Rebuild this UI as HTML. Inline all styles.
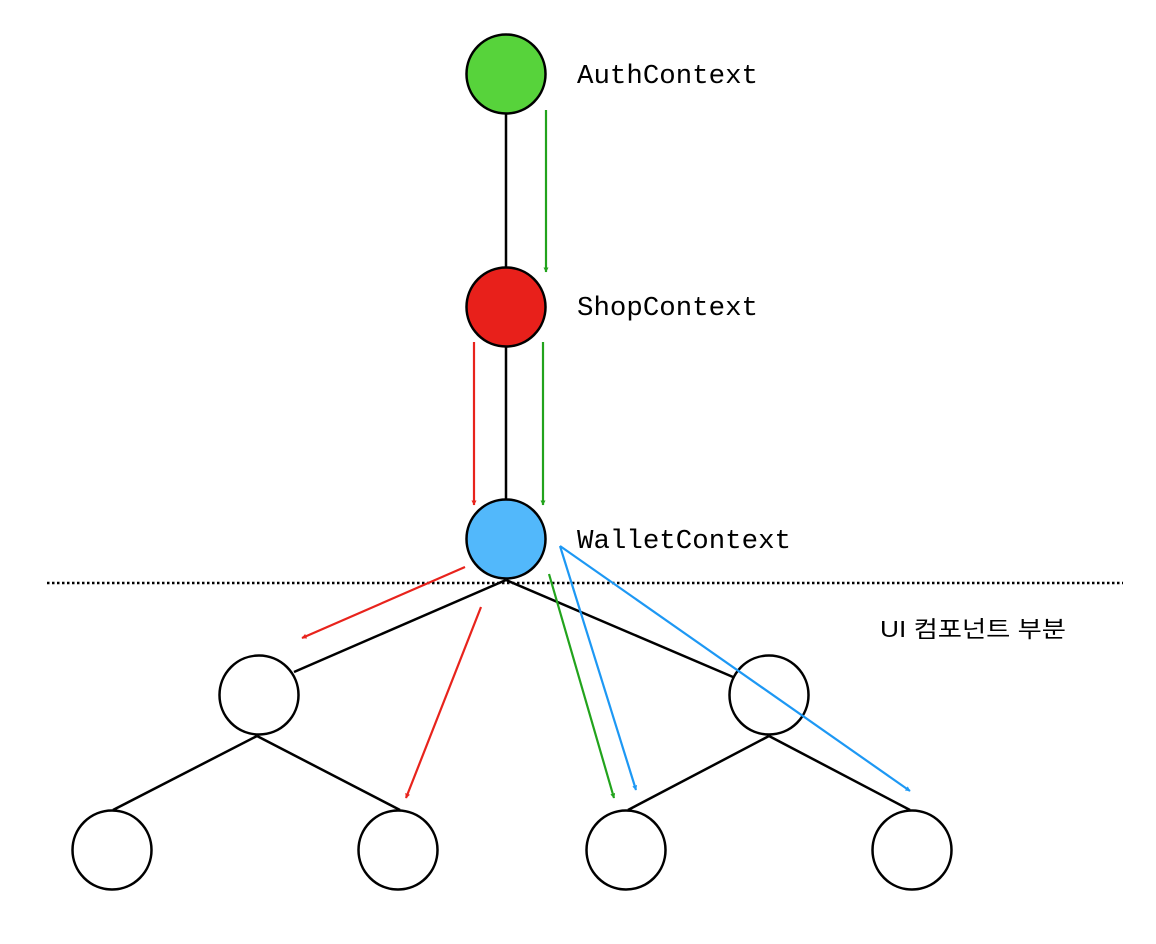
<!DOCTYPE html>
<html><head><meta charset="utf-8"><style>html,body{margin:0;padding:0;background:#fff;}svg{display:block}</style></head>
<body>
<svg width="1156" height="944" viewBox="0 0 1156 944" xmlns="http://www.w3.org/2000/svg">
<defs>
<marker id="ag" viewBox="0 0 10 10" refX="9" refY="5" markerWidth="5" markerHeight="5" orient="auto" markerUnits="userSpaceOnUse"><path d="M0,0L10,5L0,10z" fill="#22a31c"/></marker>
<marker id="ar" viewBox="0 0 10 10" refX="9" refY="5" markerWidth="5" markerHeight="5" orient="auto" markerUnits="userSpaceOnUse"><path d="M0,0L10,5L0,10z" fill="#e8231c"/></marker>
<marker id="ab" viewBox="0 0 10 10" refX="9" refY="5" markerWidth="5" markerHeight="5" orient="auto" markerUnits="userSpaceOnUse"><path d="M0,0L10,5L0,10z" fill="#1d98f4"/></marker>
</defs>
<style>
.g{stroke:#22a31c;stroke-width:2.2;fill:none;marker-end:url(#ag)}
.r{stroke:#e8231c;stroke-width:2.2;fill:none;marker-end:url(#ar)}
.b{stroke:#1d98f4;stroke-width:2.2;fill:none;marker-end:url(#ab)}
.k{stroke:#000;stroke-width:2.5}
.n{stroke:#000;stroke-width:2.5}
</style>
<marker/>
<!-- tree lines -->
<line class="k" x1="506" y1="114" x2="506" y2="267"/>
<line class="k" x1="506" y1="347" x2="506" y2="499"/>
<line class="k" x1="506" y1="580" x2="294" y2="672"/>
<line class="k" x1="506" y1="580" x2="733" y2="677"/>
<line class="k" x1="257" y1="736" x2="113" y2="810"/>
<line class="k" x1="257" y1="736" x2="400" y2="810"/>
<line class="k" x1="769" y1="736" x2="628" y2="810"/>
<line class="k" x1="769" y1="736" x2="910" y2="810"/>
<!-- dotted -->
<line x1="47" y1="583" x2="1123" y2="583" stroke="#000" stroke-width="2.5" stroke-dasharray="2.5,2.5"/>
<!-- nodes -->
<circle class="n" cx="506" cy="74" r="39.5" fill="#57d33b"/>
<circle class="n" cx="506" cy="307" r="39.5" fill="#e8201b"/>
<circle class="n" cx="506" cy="539" r="39.5" fill="#52b8fb"/>
<circle class="n" cx="259" cy="695" r="39.5" fill="#fff"/>
<circle class="n" cx="769" cy="695" r="39.5" fill="#fff"/>
<circle class="n" cx="112" cy="850" r="39.5" fill="#fff"/>
<circle class="n" cx="398" cy="850" r="39.5" fill="#fff"/>
<circle class="n" cx="626" cy="850" r="39.5" fill="#fff"/>
<circle class="n" cx="912" cy="850" r="39.5" fill="#fff"/>
<!-- arrows -->
<line class="g" x1="546" y1="110" x2="546" y2="272"/>
<line class="r" x1="474" y1="342" x2="474" y2="505"/>
<line class="g" x1="543" y1="342" x2="543" y2="505"/>
<line class="r" x1="465" y1="567" x2="302" y2="638"/>
<line class="r" x1="481" y1="607" x2="406" y2="798"/>
<line class="g" x1="549" y1="574" x2="614" y2="798"/>
<line class="b" x1="560" y1="546" x2="636" y2="790"/>
<line class="b" x1="560" y1="546" x2="910" y2="791"/>
<!-- labels -->
<g font-family="'Liberation Mono','DejaVu Sans Mono',monospace" font-size="27" fill="#000">
<text x="577" y="83" textLength="181" lengthAdjust="spacingAndGlyphs">AuthContext</text>
<text x="577" y="315" textLength="181" lengthAdjust="spacingAndGlyphs">ShopContext</text>
<text x="577" y="548" textLength="214" lengthAdjust="spacingAndGlyphs">WalletContext</text>
</g>
<text x="880" y="637" font-family="'Liberation Sans','Noto Sans CJK KR',sans-serif" font-size="23" fill="#000" textLength="186" lengthAdjust="spacingAndGlyphs">UI 컴포넌트 부분</text>
</svg>
</body></html>
